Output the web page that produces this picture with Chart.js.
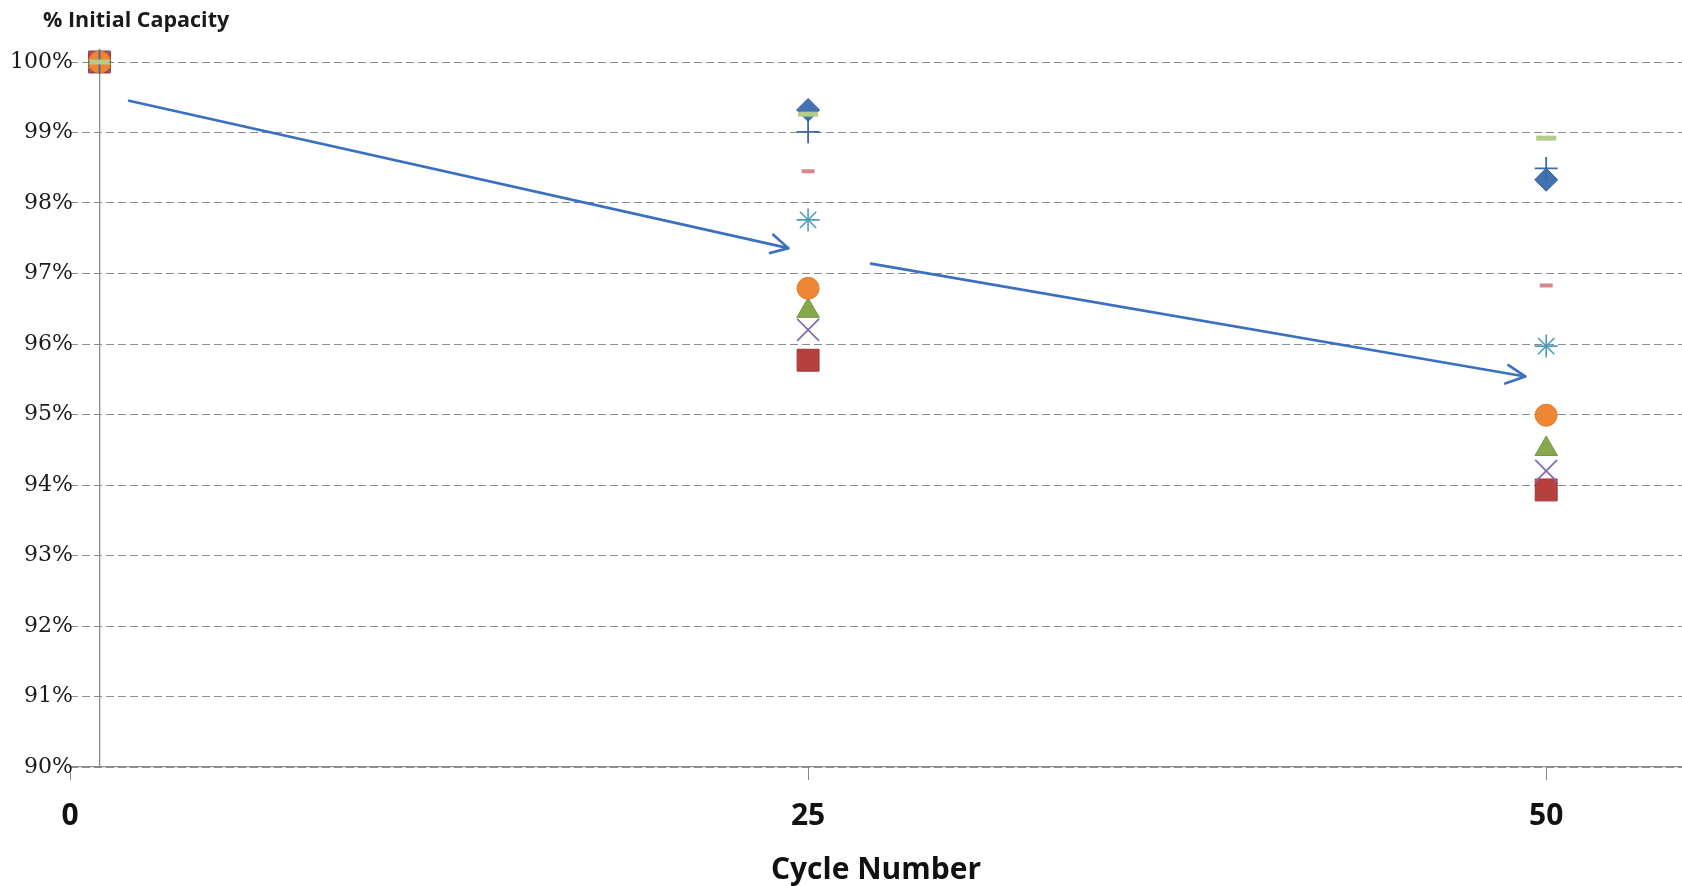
<!DOCTYPE html>
<html>
<head>
<meta charset="utf-8">
<title>% Initial Capacity vs Cycle Number</title>
<script src="https://cdn.jsdelivr.net/npm/chart.js@4.4.1/dist/chart.umd.min.js"></script>
<style>
  html, body { margin: 0; padding: 0; background: #ffffff; overflow: hidden; }
  #wrap { width: 1682px; height: 886px; }
  canvas { display: block; }
</style>
</head>
<body>
<div id="wrap"><canvas id="chart" width="1682" height="886"></canvas></div>
<script>
// Cycle numbers at which capacity was measured
const cycles = [1, 25, 50];

// Capacity retained (% of initial) for each cell
const series1 = [100, 99.32, 98.33];
const series2 = [100, 95.77, 93.93];
const series3 = [100, 96.47, 94.51];
const series4 = [100, 96.20, 94.20];
const series5 = [100, 97.76, 95.97];
const series6 = [100, 96.79, 94.99];
const series7 = [100, 99.01, 98.49];
const series8 = [100, 98.45, 96.83];
const series9 = [100, 99.26, 98.92];

// Axis ticks
const xTickValues = [0, 25, 50];
const yTickValues = [90, 91, 92, 93, 94, 95, 96, 97, 98, 99, 100];

// Trend arrows (cycle, % capacity)
const arrow1Shaft = [{x: 2.0, y: 99.45}, {x: 24.33, y: 97.36}];
const arrow1Head = [{x: 23.82, y: 97.55}, {x: 24.33, y: 97.36}, {x: 23.71, y: 97.29}];
const arrow2Shaft = [{x: 27.13, y: 97.14}, {x: 49.29, y: 95.54}];
const arrow2Head = [{x: 48.72, y: 95.70}, {x: 49.29, y: 95.54}, {x: 48.61, y: 95.44}];

const toPoints = (vals) => vals.map((v, i) => ({x: cycles[i], y: v}));

const markerSeries = [
  {label: 'Series 1', data: series1, pointStyle: 'rectRot', radius: 11.5, fill: '#4272B0', stroke: '#36609A', width: 1},
  {label: 'Series 2', data: series2, pointStyle: 'rect', radius: 15.5, fill: '#B5403D', stroke: '#9E3633', width: 1},
  {label: 'Series 3', data: series3, pointStyle: 'triangle', radius: 13, fill: '#84A84A', stroke: '#76983F', width: 1},
  {label: 'Series 4', data: series4, pointStyle: 'crossRot', radius: 15.5, fill: '#8266A8', stroke: '#8266A8', width: 1.6},
  {label: 'Series 5', data: series5, pointStyle: 'star', radius: 11.5, fill: '#4E9EB8', stroke: '#4E9EB8', width: 1.6},
  {label: 'Series 6', data: series6, pointStyle: 'circle', radius: 11, fill: '#EE8633', stroke: '#E07A2A', width: 1},
  {label: 'Series 7', data: series7, pointStyle: 'cross', radius: 11.5, fill: '#3F6AA0', stroke: '#3F6AA0', width: 1.8},
  {label: 'Series 8', data: series8, pointStyle: 'line', radius: 6.5, fill: '#D9868C', stroke: '#D9868C', width: 4},
  {label: 'Series 9', data: series9, pointStyle: 'line', radius: 10, fill: '#B5CB8A', stroke: '#B5CB8A', width: 5}
];

// Later series are stacked on top of earlier ones
const datasets = markerSeries.map((s, i) => ({
  label: s.label,
  data: toPoints(s.data),
  showLine: false,
  pointStyle: s.pointStyle,
  pointRadius: s.radius,
  pointHoverRadius: s.radius,
  pointBackgroundColor: s.fill,
  pointBorderColor: s.stroke,
  pointBorderWidth: s.width,
  backgroundColor: s.fill,
  borderColor: s.stroke,
  clip: false,
  order: 20 - i
}));

const arrowStyle = {
  showLine: true,
  pointRadius: 0,
  pointHoverRadius: 0,
  borderColor: '#3B70C1',
  borderWidth: 2.6,
  borderCapStyle: 'round',
  borderJoinStyle: 'round',
  fill: false,
  tension: 0,
  clip: false,
  order: 0
};
[arrow1Shaft, arrow1Head, arrow2Shaft, arrow2Head].forEach((pts, i) => {
  datasets.push(Object.assign({label: 'Arrow ' + (i + 1), data: pts}, arrowStyle));
});

// Let the percentage labels run into the margins instead of being clipped
const widenYLabelArea = {
  id: 'widenYLabelArea',
  afterLayout(chart) {
    chart.scales.y.left = 0;
    chart.scales.y.right += 3;
  }
};

new Chart(document.getElementById('chart'), {
  type: 'scatter',
  data: { datasets: datasets },
  plugins: [widenYLabelArea],
  options: {
    responsive: false,
    animation: false,
    events: [],
    layout: { autoPadding: false, padding: { top: 0, left: 43, right: 0, bottom: 0 } },
    plugins: {
      legend: { display: false },
      tooltip: { enabled: false },
      title: {
        display: true,
        text: '% Initial Capacity',
        align: 'start',
        color: '#1a1a1a',
        font: { family: '"Open Sans", "DejaVu Sans", sans-serif', size: 21.5, weight: 'bold', lineHeight: 1.2 },
        padding: { top: 8, bottom: 28.2 }
      }
    },
    scales: {
      x: {
        type: 'linear',
        position: 'bottom',
        min: 0,
        max: 54.6,
        afterBuildTicks: (scale) => { scale.ticks = xTickValues.map(v => ({value: v})); },
        afterFit: (scale) => { scale.height = 119; },
        ticks: {
          color: '#111111',
          padding: 0,
          maxRotation: 0,
          autoSkip: false,
          font: { family: '"Open Sans", "DejaVu Sans", sans-serif', size: 30, weight: 'bold', lineHeight: 2.4 },
          callback: (v) => String(v)
        },
        grid: { display: true, drawOnChartArea: false, drawTicks: true, tickLength: 13, color: '#8a8a8a', tickWidth: 1 },
        border: { display: true, color: '#8a8a8a', width: 1.3 },
        title: {
          display: true,
          text: 'Cycle Number',
          color: '#111111',
          font: { family: '"Open Sans", "DejaVu Sans", sans-serif', size: 30, weight: 'bold', lineHeight: 1 },
          padding: { top: 0, bottom: 1 }
        }
      },
      y: {
        type: 'linear',
        position: 'left',
        min: 90,
        max: 100,
        afterBuildTicks: (scale) => { scale.ticks = yTickValues.map(v => ({value: v})); },
        afterFit: (scale) => { scale.width = 27; },
        ticks: {
          color: '#1a1a1a',
          padding: 0,
          font: { family: '"DejaVu Serif", "Liberation Serif", serif', size: 22 },
          callback: (v) => v + '%'
        },
        grid: { display: true, drawTicks: false, tickLength: 0, color: '#8c8c8c', lineWidth: 1 },
        border: { display: false, dash: [8, 4] }
      },
      // vertical axis line crossing the cycle axis at 1
      yCross: {
        type: 'linear',
        axis: 'y',
        position: { x: 1 },
        min: 90,
        max: 100,
        ticks: { display: false },
        grid: { display: false, drawTicks: false },
        border: { display: true, color: '#8a8a8a', width: 1.3 }
      }
    }
  }
});
</script>
</body>
</html>
